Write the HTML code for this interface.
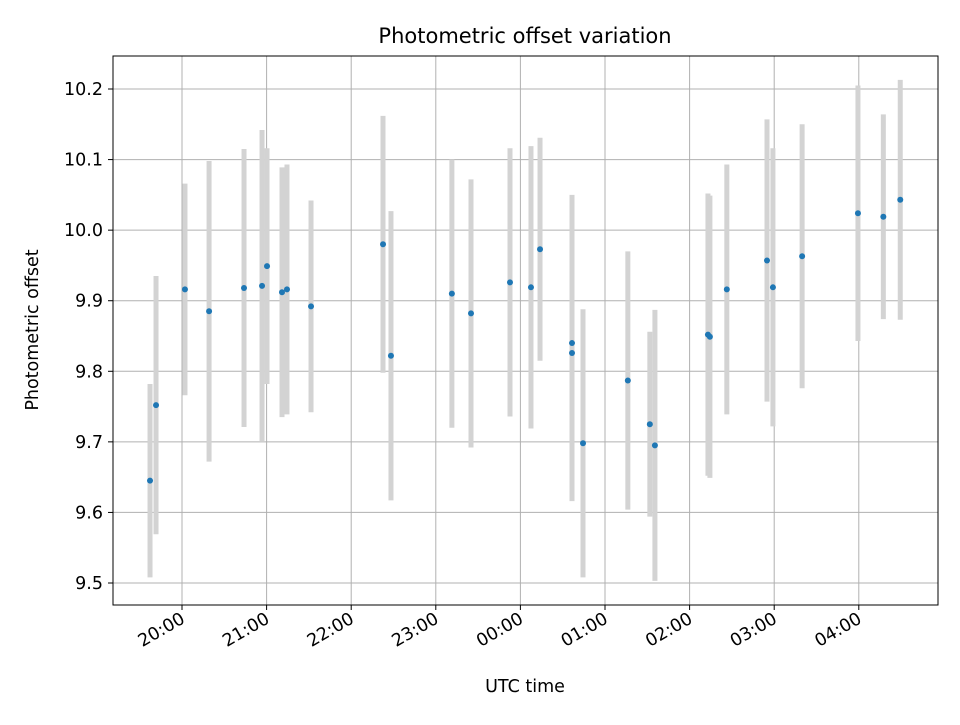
<!DOCTYPE html>
<html><head><meta charset="utf-8"><style>
body{margin:0;background:#fff;}
svg text{font-family:"DejaVu Sans","Liberation Sans",sans-serif;fill:#000;}
</style></head><body>
<svg id="chart" width="960" height="720" xmlns="http://www.w3.org/2000/svg">
<rect width="960" height="720" fill="#fff"/>
<g id="grid"></g>
<g id="bars"></g>
<g id="pts"></g>
<rect x="113" y="56" width="825" height="549" fill="none" stroke="#000" stroke-width="1"/>
<g id="axes"></g>
<text x="525" y="43" text-anchor="middle" font-size="21">Photometric offset variation</text>
<text x="525" y="692" text-anchor="middle" font-size="17.5">UTC time</text>
<text transform="translate(38,330) rotate(-90)" text-anchor="middle" font-size="17.5">Photometric offset</text>
</svg>
<script>
// hours since 20:00 UTC
const times=[-0.378,-0.307,0.035,0.32,0.733,0.946,1.005,1.182,1.241,1.525,2.376,2.47,3.19,3.416,3.877,4.125,4.232,4.61,4.61,4.74,5.27,5.53,5.59,6.217,6.24,6.44,6.915,6.985,7.33,7.99,8.29,8.49];
const offsets=[9.645,9.752,9.916,9.885,9.918,9.921,9.949,9.912,9.916,9.892,9.980,9.822,9.910,9.882,9.926,9.919,9.973,9.840,9.826,9.698,9.787,9.725,9.695,9.852,9.849,9.916,9.957,9.919,9.963,10.024,10.019,10.043];
const errors=[0.137,0.183,0.15,0.213,0.197,0.221,0.167,0.177,0.177,0.15,0.182,0.205,0.19,0.19,0.19,0.2,0.158,0.21,0.21,0.19,0.183,0.131,0.192,0.2,0.2,0.177,0.2,0.197,0.187,0.181,0.145,0.17];
const xTicks=[0,1,2,3,4,5,6,7,8];
const xTickLabels=["20:00","21:00","22:00","23:00","00:00","01:00","02:00","03:00","04:00"];
const yTicks=[9.5,9.6,9.7,9.8,9.9,10.0,10.1,10.2];
const yTickLabels=["9.5","9.6","9.7","9.8","9.9","10.0","10.1","10.2"];

const NS="http://www.w3.org/2000/svg";
const X=t=>182+t*84.6;
const Y=v=>583-(v-9.5)/0.1*70.57;
function mk(tag,attrs,parent){const e=document.createElementNS(NS,tag);for(const k in attrs)e.setAttribute(k,attrs[k]);parent.appendChild(e);return e;}
const grid=document.getElementById('grid'),axes=document.getElementById('axes'),bars=document.getElementById('bars'),pts=document.getElementById('pts');
xTicks.forEach((t,i)=>{
  const x=X(t);
  let g=mk('line',{x1:x,x2:x,y1:56,y2:605,stroke:'#b0b0b0','stroke-width':1},grid);
  
  
  let tk=mk('line',{x1:x,x2:x,y1:605,y2:610,stroke:'#000'},axes);
  
  
  let tx=mk('text',{transform:`translate(${x+4},${622}) rotate(-30)`,'text-anchor':'end','font-size':17.5},axes);
  tx.textContent=xTickLabels[i];
  
  
});
yTicks.forEach((v,i)=>{
  const y=Y(v);
  let g=mk('line',{x1:113,x2:938,y1:y,y2:y,stroke:'#b0b0b0','stroke-width':1},grid);
  
  
  let tk=mk('line',{x1:108,x2:113,y1:y,y2:y,stroke:'#000'},axes);
  
  
  let tx=mk('text',{x:103,y:y+6,'text-anchor':'end','font-size':17.5},axes);
  tx.textContent=yTickLabels[i];
  
  
});
times.forEach((t,i)=>{
  const x=X(t);
  let b=mk('line',{x1:x,x2:x,y1:Y(offsets[i]+errors[i]),y2:Y(offsets[i]-errors[i]),stroke:'#d3d3d3','stroke-width':5},bars);
  
  
  let c=mk('circle',{cx:x,cy:Y(offsets[i]),r:3,fill:'#1f77b4'},pts);
  
  
});
</script>
</body></html>
